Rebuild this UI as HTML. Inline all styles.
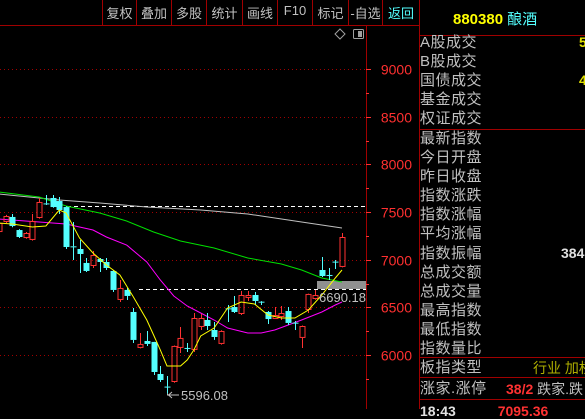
<!DOCTYPE html>
<html><head><meta charset="utf-8">
<style>
body{margin:0;background:#000;width:585px;height:409px;overflow:hidden;font-family:"Liberation Sans","WenQuanYi Zen Hei","Noto Sans CJK SC",sans-serif;}
#root{position:relative;width:585px;height:409px;}
.tb{position:absolute;top:3px;font-size:13px;color:#c0c0c0;text-align:center;}
.rl{position:absolute;left:420px;font-size:15px;color:#c0c0c0;line-height:19px;letter-spacing:0.5px}
.vline{position:absolute;background:#a00000;}
</style></head>
<body><div id="root">
<svg id="chart" width="585" height="409" style="position:absolute;left:0;top:0"></svg>
</div>
<script>
// ===== Data =====
const yTicks=[9000,8500,8000,7500,7000,6500,6000];
const opens=[7290,7395,7448,7311,7227,7207,7437,7590,7647,7615,7552,7140,7112,6966,6934,7007,6976,6882,6578,6683,6452,6075,6148,6138,5802,5670,5718,6075,6075,6054,6295,6368,6263,6117,6490,6504,6431,6599,6630,6560,6452,6378,6399,6462,6340,6180,6473,6588,6892,6840,6980,6924];
const highs=[7395,7470,7479,7320,7290,7479,7647,7678,7678,7657,7560,7395,7207,7018,7091,7018,7018,6892,6787,6704,6494,6232,6253,6140,5886,5781,6100,6295,6127,6441,6431,6441,6347,6260,6525,6620,6672,6672,6662,6567,6462,6504,6515,6504,6357,6310,6645,6683,7028,6913,6997,7280];
const lows=[7280,7385,7340,7227,7220,7200,7430,7573,7545,7479,7112,6997,6861,6871,6913,6871,6892,6662,6557,6578,6127,6070,6096,5792,5718,5596,5710,6022,6033,6033,6263,6263,6159,6110,6347,6441,6420,6567,6525,6525,6326,6378,6368,6316,6263,6075,6441,6580,6819,6787,6903,6920];
const closes=[7385,7458,7353,7238,7280,7406,7605,7583,7552,7521,7133,7133,7060,6882,7049,6976,6913,6683,6704,6620,6159,6117,6117,5823,5739,5666,6096,6180,6070,6389,6389,6305,6190,6253,6483,6452,6630,6630,6567,6557,6378,6420,6441,6337,6337,6305,6641,6630,6829,6835,6976,7238];
const ma5Idx=[0,2,5,7,9,10,12,14,16,18,20,22,23,24,25,27,28,29,30,32,34,36,38,40,42,44,46,48,50,51];
const ma5Val=[7385,7374,7343,7353,7521,7490,7227,7070,6944,6840,6609,6368,6211,6054,5886,5886,5949,6054,6200,6284,6494,6557,6536,6420,6389,6389,6473,6630,6808,6892];
const ma10Idx=[0,6,10,14,16,19,22,24,26,28,30,32,34,37,39,41,43,45,48,50,51];
const ma10Val=[7427,7395,7374,7311,7238,7154,6976,6787,6620,6515,6441,6368,6284,6232,6232,6263,6316,6368,6452,6525,6557];
const ma20Idx=[0,6,10,15,19,23,27,32,37,42,45,48,51];
const ma20Val=[7710,7657,7563,7490,7406,7290,7196,7123,7018,6955,6892,6808,6766];
const ma60Idx=[0,9,15,22,30,37,45,51];
const ma60Val=[7689,7626,7594,7552,7521,7479,7395,7332];
const hiMark=7560, loMark=6690.18, lowLabel="5596.08";

// ===== Axes =====
const yOf=p=>212+(7500-p)*0.0954;
const xOf=i=>342-(51-i)*6.73;
const NS="http://www.w3.org/2000/svg";
const svg=document.getElementById('chart');
function mk(tag,attrs,parent){const e=document.createElementNS(NS,tag);for(const k in attrs)e.setAttribute(k,attrs[k]);(parent||svg).appendChild(e);return e;}

mk('line',{x1:0,y1:25.5,x2:419,y2:25.5,stroke:'#a00000'});
mk('line',{x1:366.5,y1:26,x2:366.5,y2:409,stroke:'#a00000'});
mk('line',{x1:419.5,y1:0,x2:419.5,y2:409,stroke:'#a00000'});
yTicks.forEach(v=>{
  const y=Math.round(yOf(v))+0.5;
  const g=mk('line',{x1:0,y1:y,x2:366,y2:y,stroke:'#a00000','stroke-dasharray':'1,3'});
  
  
  const t=mk('text',{x:412,y:y+5,fill:'#ff3030','font-size':'14','text-anchor':'end','font-family':'Liberation Sans, sans-serif'});
  t.textContent=v;
  
  
  mk('line',{x1:366,y1:y,x2:371,y2:y,stroke:'#ff3030'});
  mk('line',{x1:366,y1:y+24,x2:369,y2:y+24,stroke:'#ff3030'});
});
const d1=mk('line',{x1:67,y1:Math.round(yOf(hiMark))+0.5,x2:366,y2:Math.round(yOf(hiMark))+0.5,stroke:'#fff','stroke-dasharray':'4,3'});

const d2=mk('line',{x1:139,y1:Math.round(yOf(loMark))+0.5,x2:366,y2:Math.round(yOf(loMark))+0.5,stroke:'#fff','stroke-dasharray':'4,3'});

const box=mk('rect',{x:317,y:281,width:49,height:8,fill:'#909090'});


function maLine(idx,val,color,name){
  const pts=idx.map((i,k)=>xOf(i).toFixed(1)+','+yOf(val[k]).toFixed(1)).join(' ');
  const p=mk('polyline',{points:pts,fill:'none',stroke:color,'stroke-width':1});
  
  
}
maLine(ma60Idx,ma60Val,'#c0c0c0','ma60-line');
maLine(ma20Idx,ma20Val,'#00e000','ma20-line');
maLine(ma10Idx,ma10Val,'#ff00ff','ma10-line');

opens.forEach((o,i)=>{
  const c=closes[i],x=Math.round(xOf(i));
  const up=c>o, col=up?'#ff3232':'#54ffff';
  const top=yOf(Math.max(o,c)), bot=yOf(Math.min(o,c));
  const g=mk('g',{});
  
  
  mk('line',{x1:x+0.5,y1:yOf(highs[i]),x2:x+0.5,y2:top,stroke:col},g);
  mk('line',{x1:x+0.5,y1:bot,x2:x+0.5,y2:yOf(lows[i]),stroke:col},g);
  const h=Math.max(bot-top,1);
  if(up) mk('rect',{x:x-2,y:top+0.5,width:5,height:Math.max(h-1,0.5),fill:'none',stroke:col},g);
  else if(h<2) mk('line',{x1:x-2.5,y1:top+0.5,x2:x+3.5,y2:top+0.5,stroke:col},g);
  else mk('rect',{x:x-2.5,y:top,width:6,height:h,fill:col},g);
});
maLine(ma5Idx,ma5Val,'#ffff00','ma5-line');

const l1=mk('text',{x:319,y:302,fill:'#c0c0c0','font-size':'13','font-family':'Liberation Sans, sans-serif'});
l1.textContent=loMark.toFixed(2);

const lowI=lows.indexOf(Math.min(...lows));
const lx=Math.round(xOf(lowI));
mk('polyline',{points:`${lx+0.5},${yOf(lows[lowI])} ${lx+0.5},395 ${lx+12},395`,fill:'none',stroke:'#c0c0c0'});
mk('polyline',{points:`${lx+5},392 ${lx+1.5},395 ${lx+5},398`,fill:'none',stroke:'#c0c0c0'});
const l2=mk('text',{x:lx+14,y:400,fill:'#c0c0c0','font-size':'13','font-family':'Liberation Sans, sans-serif'});
l2.textContent=lowLabel;

mk('path',{d:'M340 29 L345 34 L340 39 L335 34 Z',fill:'none',stroke:'#a0a0a0'});
mk('rect',{x:353.5,y:29.5,width:10,height:9,fill:'none',stroke:'#a0a0a0',rx:1});
mk('rect',{x:358,y:31,width:4,height:6,fill:'#a0a0a0'});
[35,129,357,377,399].forEach(y=>mk('line',{x1:419,y1:y+0.5,x2:585,y2:y+0.5,stroke:'#a00000'}));
</script>
<div>
<div class="vline" style="left:102px;top:0;width:1px;height:25px"></div>
<div class="vline" style="left:136px;top:0;width:1px;height:25px"></div>
<div class="vline" style="left:171px;top:0;width:1px;height:25px"></div>
<div class="vline" style="left:206px;top:0;width:1px;height:25px"></div>
<div class="vline" style="left:242px;top:0;width:1px;height:25px"></div>
<div class="vline" style="left:277px;top:0;width:1px;height:25px"></div>
<div class="vline" style="left:312px;top:0;width:1px;height:25px"></div>
<div class="vline" style="left:348px;top:0;width:1px;height:25px"></div>
<div class="vline" style="left:382px;top:0;width:1px;height:25px"></div>
<div class="tb" style="left:103px;width:33px">复权</div>
<div class="tb" style="left:137px;width:34px">叠加</div>
<div class="tb" style="left:172px;width:34px">多股</div>
<div class="tb" style="left:207px;width:35px">统计</div>
<div class="tb" style="left:243px;width:34px">画线</div>
<div class="tb" style="left:278px;width:34px">F10</div>
<div class="tb" style="left:313px;width:35px">标记</div>
<div class="tb" style="left:349px;width:33px">-自选</div>
<div class="tb" style="left:383px;width:36px;color:#54ffff">返回</div>
</div>
<div style="position:absolute;left:453px;top:8px;font-size:15px;font-weight:bold;color:#ffff00">880380 <span style="color:#54ffff;font-weight:normal">酿酒</span></div>
<div>
<div class="rl" style="top:33px">A股成交</div>
<div class="rl" style="top:52px">B股成交</div>
<div class="rl" style="top:71px">国债成交</div>
<div class="rl" style="top:90px">基金成交</div>
<div class="rl" style="top:109px">权证成交</div>
<div class="rl" style="top:129px">最新指数</div>
<div class="rl" style="top:148px">今日开盘</div>
<div class="rl" style="top:167px">昨日收盘</div>
<div class="rl" style="top:186px">指数涨跌</div>
<div class="rl" style="top:205px">指数涨幅</div>
<div class="rl" style="top:224px">平均涨幅</div>
<div class="rl" style="top:244px">指数振幅</div>
<div class="rl" style="top:263px">总成交额</div>
<div class="rl" style="top:282px">总成交量</div>
<div class="rl" style="top:301px">最高指数</div>
<div class="rl" style="top:320px">最低指数</div>
<div class="rl" style="top:339px">指数量比</div>
<div class="rl" style="top:358px">板指类型</div>
<div class="rl" style="top:379px">涨家.涨停</div>
<div style="position:absolute;left:579px;top:34px;font-size:14px;font-weight:bold;color:#e0e000">5</div>
<div style="position:absolute;left:579px;top:72px;font-size:14px;font-weight:bold;color:#e0e000">4</div>
<div style="position:absolute;left:561px;top:245px;font-size:14px;font-weight:bold;color:#e0e0e0">384</div>
<div style="position:absolute;left:533px;top:358px;font-size:14px;color:#b0b000;white-space:nowrap">行业 加权</div>
<div style="position:absolute;left:506px;top:379px;font-size:14px;font-weight:bold;color:#ff3232;white-space:nowrap">38/2 <span style="color:#c0c0c0;font-weight:normal">跌家.跌</span></div>
<div style="position:absolute;left:420px;top:403px;font-size:14px;font-weight:bold;color:#e0e0e0;white-space:nowrap">18:43 <span style="color:#ff3232;margin-left:38px">7095.36</span></div>
</div>
</body></html>
